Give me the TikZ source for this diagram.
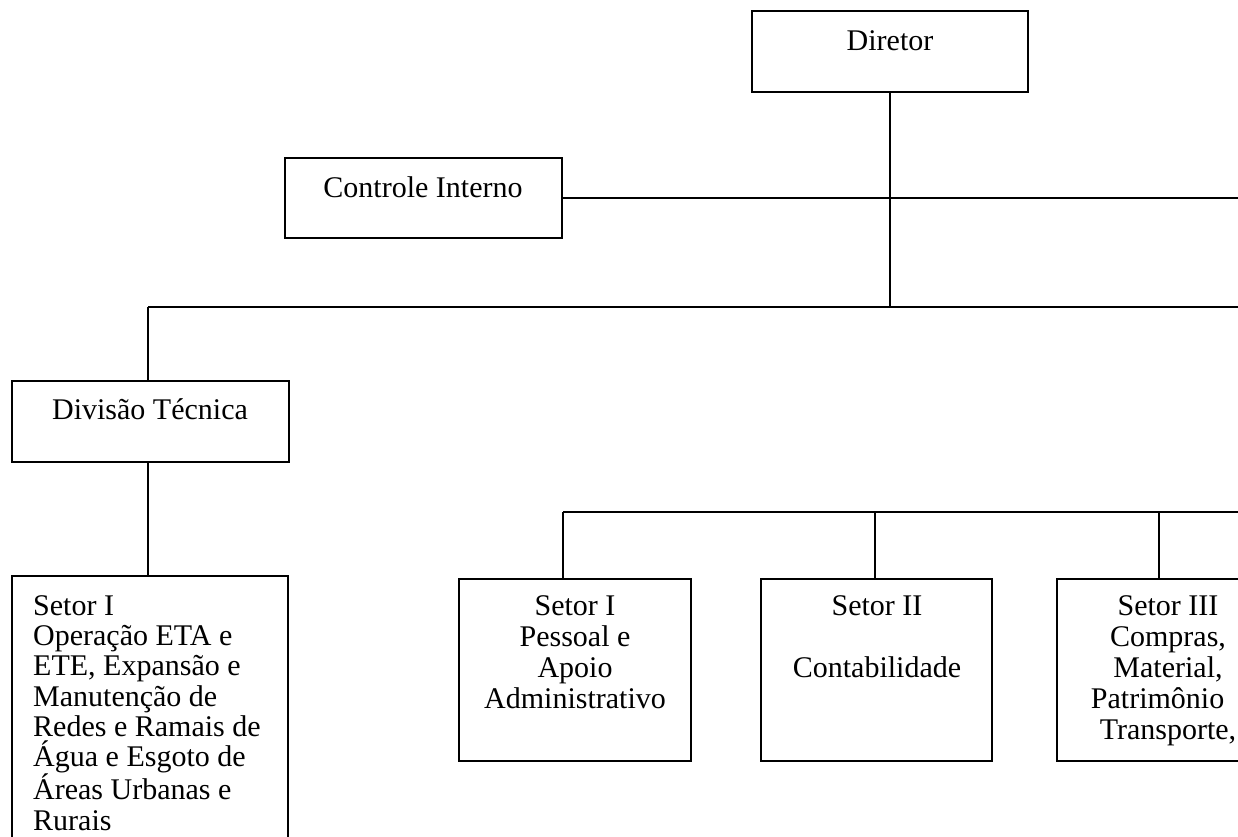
\documentclass[tikz,border=0pt]{standalone}
\usepackage{fontspec}
\setmainfont{Liberation Serif}
\begin{document}
\begin{tikzpicture}[x=1pt,y=-1pt,
  box/.style={draw=black, line width=1.7pt, rectangle, inner sep=0pt},
  conn/.style={draw=black, line width=1.7pt},
  lbl/.style={inner sep=0pt, font=\fontsize{30}{31}\selectfont, text=black},
  lbll/.style={inner sep=0pt, font=\fontsize{30}{30.3}\selectfont, text=black, align=left}]
\useasboundingbox (0,0) rectangle (1238,836);
\clip (0,0) rectangle (1238,836);
\fill[white] (0,0) rectangle (1238,836);
% boxes
\node[box, minimum width=276pt, minimum height=81pt] (dir) at (890,51.5) {};
\node[box, minimum width=277pt, minimum height=80pt] (ctrl) at (423.5,198) {};
\node[box, minimum width=277pt, minimum height=81pt] (div) at (150.5,421.5) {};
\node[box, minimum width=276pt, minimum height=290pt] (s1) at (150,721) {};
\node[box, minimum width=232pt, minimum height=182pt] (pess) at (575,670) {};
\node[box, minimum width=231pt, minimum height=182pt] (cont) at (876.5,670) {};
\node[box, minimum width=232pt, minimum height=182pt] (s3) at (1173,670) {};
% texts
\node[lbl, anchor=base] (dirT) at (890,50) {Diretor};
\node[lbl, anchor=base] (ctrlT) at (423,197) {Controle Interno};
\node[lbl, anchor=base] (divT) at (150,419) {Divisão Técnica};
\node[lbll, anchor=north west] (s1T) at (33,593.8) {\strut Setor I\\Operação ETA e\\ETE, Expansão e\\Manutenção de\\Redes e Ramais de\\Água e Esgoto de\\Áreas Urbanas e\\Rurais};
\node[lbl, anchor=north, align=center] (pessT) at (575,593.3) {\strut Setor I\\Pessoal e\\Apoio\\Administrativo};
\node[lbl, anchor=north, align=center] (contT) at (877,593.3) {\strut Setor II\\[31pt]Contabilidade};
\node[lbl, anchor=north, align=center] (s3T) at (1168,593.3) {\strut Setor III\\Compras,\\Material,\\Patrimônio\phantom{ e}\\Transporte,};
% junctions
\coordinate (j1) at (890,307);
\coordinate (ctrlE) at (1250,198);
\coordinate (b1l) at (148,307);
\coordinate (b1r) at (1250,307);
\coordinate (b2l) at (563,512);
\coordinate (b2m) at (875,512);
\coordinate (b2n) at (1159,512);
\coordinate (b2r) at (1250,512);
% connectors
\draw[conn] (dir.south -| j1) -- (j1);
\draw[conn] (ctrl.east) -- (ctrl.east -| ctrlE);
\draw[conn] (b1l) -- (b1r);
\draw[conn] (b1l) -- (b1l |- div.north);
\draw[conn] (div.south -| b1l) -- (b1l |- s1.north);
\draw[conn] (b2l) -- (b2r);
\draw[conn] (b2l) -- (b2l |- pess.north);
\draw[conn] (b2m) -- (b2m |- cont.north);
\draw[conn] (b2n) -- (b2n |- s3.north);
\end{tikzpicture}
\end{document}
